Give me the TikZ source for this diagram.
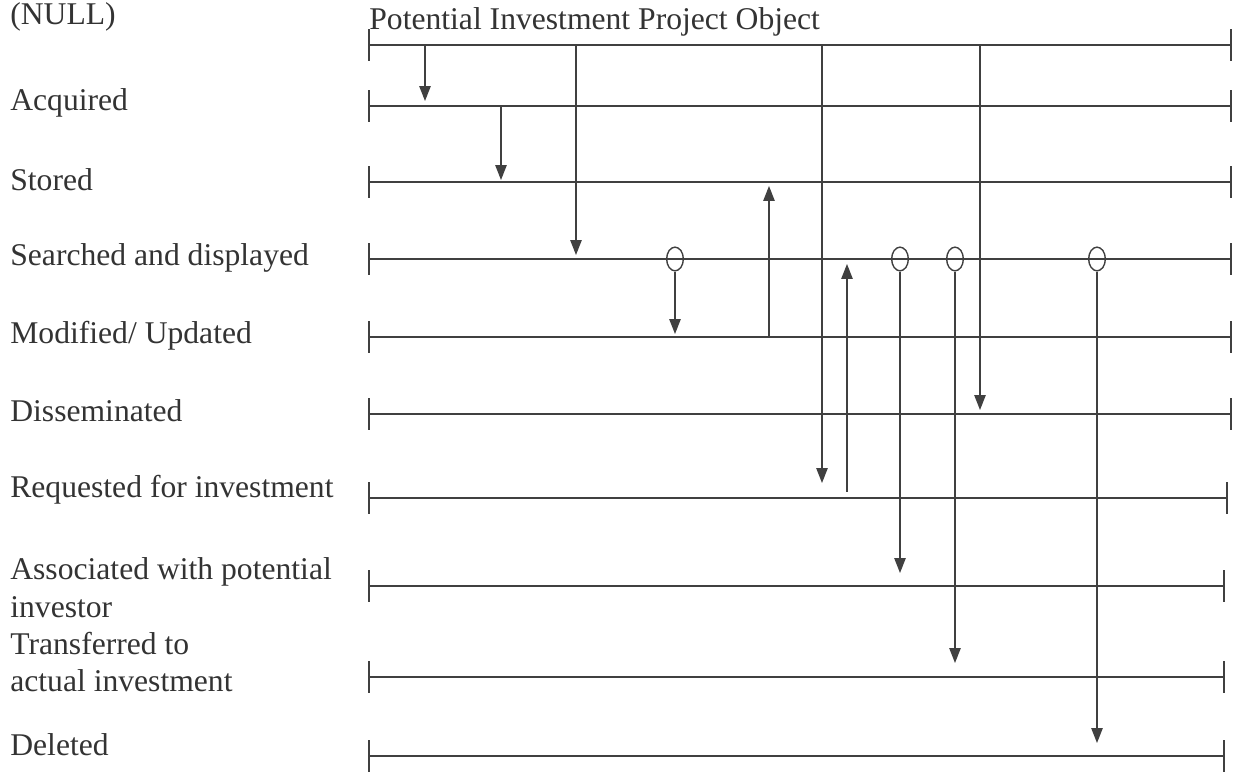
\documentclass[tikz,border=0pt]{standalone}
\usepackage{fontspec}
\setmainfont{Liberation Serif}
\usetikzlibrary{arrows.meta,shapes.geometric}

\begin{document}
\begin{tikzpicture}[
	x=0.02cm, y=-0.02cm,
	statelabel/.style={font=\fontsize{18}{21.5}\selectfont, text=black!80, anchor=west, align=left, inner sep=0pt},
	objtitle/.style={font=\fontsize{18}{21.5}\selectfont, text=black!80, anchor=west, inner sep=0pt},
	lifeline/.style={{Bar[width=18pt]}-{Bar[width=18pt]}, line width=0.9pt, draw=black!75},
	arrow/.style={-{Triangle[width=6.5pt,length=8.5pt]}, line width=0.7pt, draw=black!75},
	choice/.style={ellipse, draw=black!75, line width=0.8pt, minimum width=9.5pt, minimum height=13.5pt, inner sep=0pt}
]
\useasboundingbox (0,0) rectangle (1241,776);
% state labels
\node (lblNull) [statelabel] at (10,17) {(NULL)};
\node (lblAcq) [statelabel] at (10,103) {Acquired};
\node (lblSto) [statelabel] at (10,180) {Stored};
\node (lblSea) [statelabel] at (10,258) {Searched and displayed};
\node (lblMod) [statelabel] at (10,336) {Modified/ Updated};
\node (lblDis) [statelabel] at (10,411) {Disseminated};
\node (lblReq) [statelabel] at (10,490) {Requested for investment};
\node (lblAss) [statelabel] at (10,588) {Associated with potential\\investor};
\node (lblTra) [statelabel] at (10,662) {Transferred to\\actual investment};
\node (lblDel) [statelabel] at (10,745) {Deleted};
\node (objTitle) [objtitle] at (369,22) {Potential Investment Project Object};
% state lines
\coordinate (nullL) at (368,45);  \coordinate (nullR) at (1232,45);
\coordinate (acqL) at (368,106);  \coordinate (acqR) at (1232,106);
\coordinate (stoL) at (368,182);  \coordinate (stoR) at (1232,182);
\coordinate (seaL) at (368,259);  \coordinate (seaR) at (1232,259);
\coordinate (modL) at (368,337);  \coordinate (modR) at (1232,337);
\coordinate (disL) at (368,414);  \coordinate (disR) at (1232,414);
\coordinate (reqL) at (368,498);  \coordinate (reqR) at (1228,498);
\coordinate (assL) at (368,586);  \coordinate (assR) at (1225,586);
\coordinate (traL) at (368,677);  \coordinate (traR) at (1225,677);
\coordinate (delL) at (368,756);  \coordinate (delR) at (1225,756);
\draw [lifeline] (nullL) -- (nullR);
\draw [lifeline] (acqL) -- (acqR);
\draw [lifeline] (stoL) -- (stoR);
\draw [lifeline] (seaL) -- (seaR);
\draw [lifeline] (modL) -- (modR);
\draw [lifeline] (disL) -- (disR);
\draw [lifeline] (reqL) -- (reqR);
\draw [lifeline] (assL) -- (assR);
\draw [lifeline] (traL) -- (traR);
\draw [lifeline] (delL) -- (delR);
% choice points on searched line
\node (choice1) [choice] at (675,259) {};
\node (choice2) [choice] at (900,259) {};
\node (choice3) [choice] at (955,259) {};
\node (choice4) [choice] at (1097,259) {};
% transition ends
\coordinate (acquire0) at (425,45);  \coordinate (acquire1) at (425,101);
\coordinate (store0) at (501,106);   \coordinate (store1) at (501,180);
\coordinate (search0) at (576,45);   \coordinate (search1) at (576,255);
\coordinate (modify1) at (675,334);
\coordinate (update0) at (769,337);  \coordinate (update1) at (769,186);
\coordinate (request0) at (822,45);  \coordinate (request1) at (822,483);
\coordinate (research0) at (847,492); \coordinate (research1) at (847,264);
\coordinate (spread0) at (980,45);   \coordinate (spread1) at (980,410);
\coordinate (associate1) at (900,573);
\coordinate (transfer1) at (955,663);
\coordinate (delete1) at (1097,743);
% transitions
\draw [arrow] (acquire0) -- (acquire1);
\draw [arrow] (store0) -- (store1);
\draw [arrow] (search0) -- (search1);
\draw [arrow] (choice1) -- (modify1);
\draw [arrow] (update0) -- (update1);
\draw [arrow] (request0) -- (request1);
\draw [arrow] (research0) -- (research1);
\draw [arrow] (spread0) -- (spread1);
\draw [arrow] (choice2) -- (associate1);
\draw [arrow] (choice3) -- (transfer1);
\draw [arrow] (choice4) -- (delete1);
\end{tikzpicture}
\end{document}
